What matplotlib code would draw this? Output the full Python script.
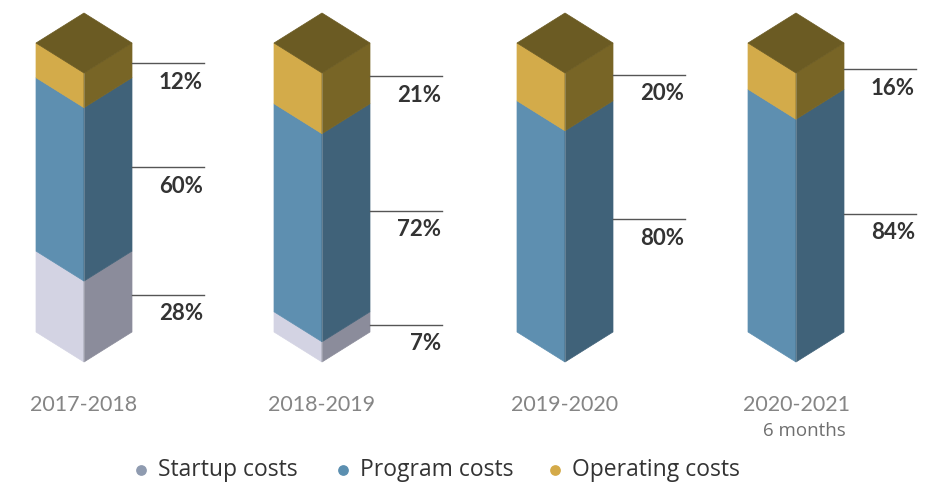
import matplotlib
matplotlib.use("Agg")
import matplotlib.pyplot as plt
from matplotlib.patches import Polygon

# kosten per schooljaar, in procent
jaren = ["2017-2018", "2018-2019", "2019-2020", "2020-2021"]
startup = [28, 7, 0, 0]
program = [60, 72, 80, 84]
operating = [12, 21, 20, 16]
legenda = ["Startup costs", "Program costs", "Operating costs"]

plt.rcParams["font.family"] = ["Lato", "DejaVu Sans"]

# kleuren: (voorkant, zijkant)
kleuren = [
    ("#d3d3e3", "#8b8c9b"),
    ("#5e8fb0", "#406279"),
    ("#d3ab4a", "#786526"),
]
dak = "#6b5b23"
stip_kleuren = ["#8f9bb0", "#5b8fb0", "#d4aa48"]

fig = plt.figure(figsize=(9.34, 4.86), dpi=100)
ax = fig.add_axes([0, 0, 1, 1])
ax.set_xlim(0, 934)
ax.set_ylim(486, 0)
ax.axis("off")

centra = [84, 322, 565, 796]
w = 48          # halve breedte van de kolom
d = 30          # diepte van de schuine rand
basis = 332     # onderkant linkerrand
schaal = 2.89   # pixels per procent
lijn = 72

for i, cx in enumerate(centra):
    onder = basis
    for reeks, (voor, zij) in zip([startup, program, operating], kleuren):
        v = reeks[i]
        if v <= 0:
            continue
        boven = onder - v * schaal
        ax.add_patch(Polygon([(cx - w, boven), (cx, boven + d), (cx, onder + d), (cx - w, onder)],
                             closed=True, fc=voor, ec=voor, lw=0.5))
        ax.add_patch(Polygon([(cx, boven + d), (cx + w, boven), (cx + w, onder), (cx, onder + d)],
                             closed=True, fc=zij, ec=zij, lw=0.5))
        midden = (boven + onder) / 2 + 3
        ax.plot([cx + w, cx + w + lijn], [midden, midden], color="#555555", lw=1)
        ax.text(cx + w + lijn - 1, midden + 19, f"{v}%", ha="right", va="center",
                fontsize=16, fontweight="bold", color="#333333")
        onder = boven
    top = onder
    ax.add_patch(Polygon([(cx - w, top), (cx, top - d), (cx + w, top), (cx, top + d)],
                         closed=True, fc=dak, ec=dak, lw=0.5))
    # lichte rand tussen voor- en zijkant
    ax.plot([cx, cx], [top + d, basis + d], color="white", lw=0.4, alpha=0.35)
    ax.text(cx, 405, jaren[i], ha="center", va="center", fontsize=15.5,
            color="#858585")

ax.text(centra[3] + 8, 431, "6 months", ha="center", va="center", fontsize=13.5,
        color="#6f6f6f", family=["Open Sans", "DejaVu Sans"])

# legenda onderaan
stip_x = [141, 343, 555]
for x, naam, kl in zip(stip_x, legenda, stip_kleuren):
    ax.scatter([x], [470], s=45, color=kl, zorder=3)
    ax.text(x + 17, 470, naam, ha="left", va="center", fontsize=16.5, color="#333333",
            family=["Open Sans", "DejaVu Sans"])

fig.savefig("out.png", dpi=100)
